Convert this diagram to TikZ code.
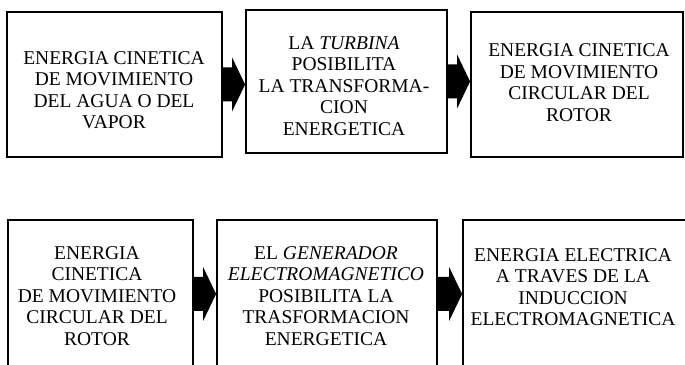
\documentclass[tikz,border=0pt]{standalone}
\usepackage{fontspec}
\setmainfont{Liberation Serif}
\usetikzlibrary{calc}
\tikzset{
  box/.style={draw=black, line width=1.8pt, minimum width=#1, inner sep=0pt},
  txt/.style={align=center, inner sep=0pt, font=\fontsize{19.5}{21.5}\selectfont},
  arr/.style={fill=black}
}
\newcommand\flowarrow[3]{%
  \coordinate (#3) at (#1.east -| #2.west);
  \fill[arr] ($(#1.east)+(0,17pt)$) -- ($(#3)+(-13pt,17pt)$) -- ($(#3)+(-13pt,27pt)$)
    -- (#3) -- ($(#3)+(-13pt,-27pt)$) -- ($(#3)+(-13pt,-17pt)$) -- ($(#1.east)+(0,-17pt)$) -- cycle;}
\begin{document}
\begin{tikzpicture}[x=1pt,y=1pt]
\useasboundingbox (0,0) rectangle (685,364);
\begin{scope}
\clip (0,0) rectangle (685,364);
% top row
\node[box=215pt, minimum height=145pt] (b1) at (114.5,279.5) {};
\node[box=201pt, minimum height=143pt] (b2) at (346.5,282.5) {};
\node[box=212pt, minimum height=145pt] (b3) at (577,279.5) {};
% bottom row
\node[box=185pt, minimum height=148pt] (b4) at (100.5,70) {};
\node[box=220pt, minimum height=148pt] (b5) at (327,70) {};
\node[box=225pt, minimum height=148pt] (b6) at (575.5,70) {};
\end{scope}
% texts
\node[txt] (t1) at (114,274) {ENERGIA CINETICA\\DE MOVIMIENTO\\DEL AGUA O DEL\\VAPOR};
\node[txt] (t2) at (344,278) {LA \textit{TURBINA}\\POSIBILITA\\LA TRANSFORMA-\\CION\\ENERGETICA};
\node[txt] (t3) at (579,281.5) {ENERGIA CINETICA\\DE MOVIMIENTO\\CIRCULAR DEL\\ROTOR};
\node[txt] (t4) at (97,68) {ENERGIA\\CINETICA\\DE MOVIMIENTO\\CIRCULAR DEL\\ROTOR};
\node[txt] (t5) at (326,68) {EL \textit{GENERADOR}\\\textit{ELECTROMAGNETICO}\\POSIBILITA LA\\TRASFORMACION\\ENERGETICA};
\node[txt] (t6) at (573,77) {ENERGIA ELECTRICA\\A TRAVES DE LA\\INDUCCION\\ELECTROMAGNETICA};
% arrows
\flowarrow{b1}{b2}{a1}
\flowarrow{b2}{b3}{a2}
\flowarrow{b4}{b5}{a3}
\flowarrow{b5}{b6}{a4}
\end{tikzpicture}
\end{document}
